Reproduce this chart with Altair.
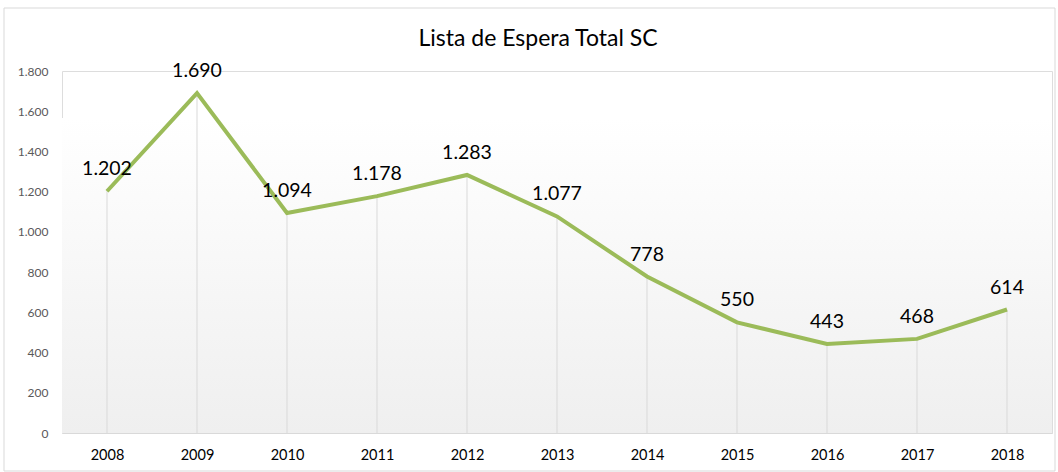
import altair as alt
import pandas as pd

years = ["2008", "2009", "2010", "2011", "2012", "2013", "2014", "2015", "2016", "2017", "2018"]
values = [1202, 1690, 1094, 1178, 1283, 1077, 778, 550, 443, 468, 614]
y_ticks = [0, 200, 400, 600, 800, 1000, 1200, 1400, 1600, 1800]
title_text = "Lista de Espera Total SC"

df = pd.DataFrame({"year": years, "value": values})
df["label"] = [f"{v:,}".replace(",", ".") for v in values]

FONT = "Lato"
W, H = 990, 362

x_enc = alt.X("year:O", scale=alt.Scale(type="point", padding=0.5),
              axis=alt.Axis(title=None, labelAngle=0, ticks=False, domain=True,
                            domainColor="#d9d9d9", labelFontSize=14.5, labelColor="#000000",
                            labelFont=FONT, labelPadding=15, grid=False))
y_scale = alt.Scale(domain=[0, 1800], nice=False)
y_enc = alt.Y("value:Q", scale=y_scale,
              axis=alt.Axis(title=None, values=y_ticks, ticks=False, domain=False, grid=False,
                            labelFontSize=12, labelColor="#595959", labelFont=FONT,
                            labelPadding=14,
                            labelExpr="replace(format(datum.value, ','), ',', '.')"))

base = alt.Chart(df)
first = "datum.year == '2008'"

border = base.mark_rect(fill="transparent", stroke="#d9d9d9", strokeWidth=1).encode(
    x=alt.value(-58), x2=alt.value(993), y=alt.value(-63), y2=alt.value(400)
).transform_filter(first)

bg = base.mark_rect(
    color=alt.Gradient(gradient="linear", x1=0, x2=0, y1=0, y2=1,
                       stops=[alt.GradientStop(color="#ffffff", offset=0),
                              alt.GradientStop(color="#efefef", offset=1)])
).encode(
    x=alt.value(0), x2=alt.value(W), y=alt.value(47), y2=alt.value(H)
).transform_filter(first)

title = base.mark_text(fontSize=23, font=FONT, color="#000000", align="center",
                       baseline="alphabetic").encode(
    x=alt.value(476), y=alt.value(-25), text=alt.value(title_text)
).transform_filter(first)

rules = base.mark_rule(color="#d9d9d9", strokeWidth=1).encode(
    x=x_enc, y=y_enc, y2=alt.datum(0)
)

line = base.mark_line(color="#9bbb59", strokeWidth=4).encode(x=x_enc, y=y_enc)

labels = base.mark_text(fontSize=19.5, font=FONT, color="#000000", dy=-16,
                        baseline="alphabetic").encode(
    x=x_enc, y=y_enc, text="label:N"
)

chart = alt.layer(border, bg, rules, line, labels, title).properties(
    width=W, height=H,
    autosize=alt.AutoSizeParams(type="none"),
    padding={"left": 62, "top": 71, "right": 6, "bottom": 39},
).configure_view(stroke=None).configure(background="#ffffff")

chart.save("out.html", embed_options={"renderer": "svg", "actions": False})
